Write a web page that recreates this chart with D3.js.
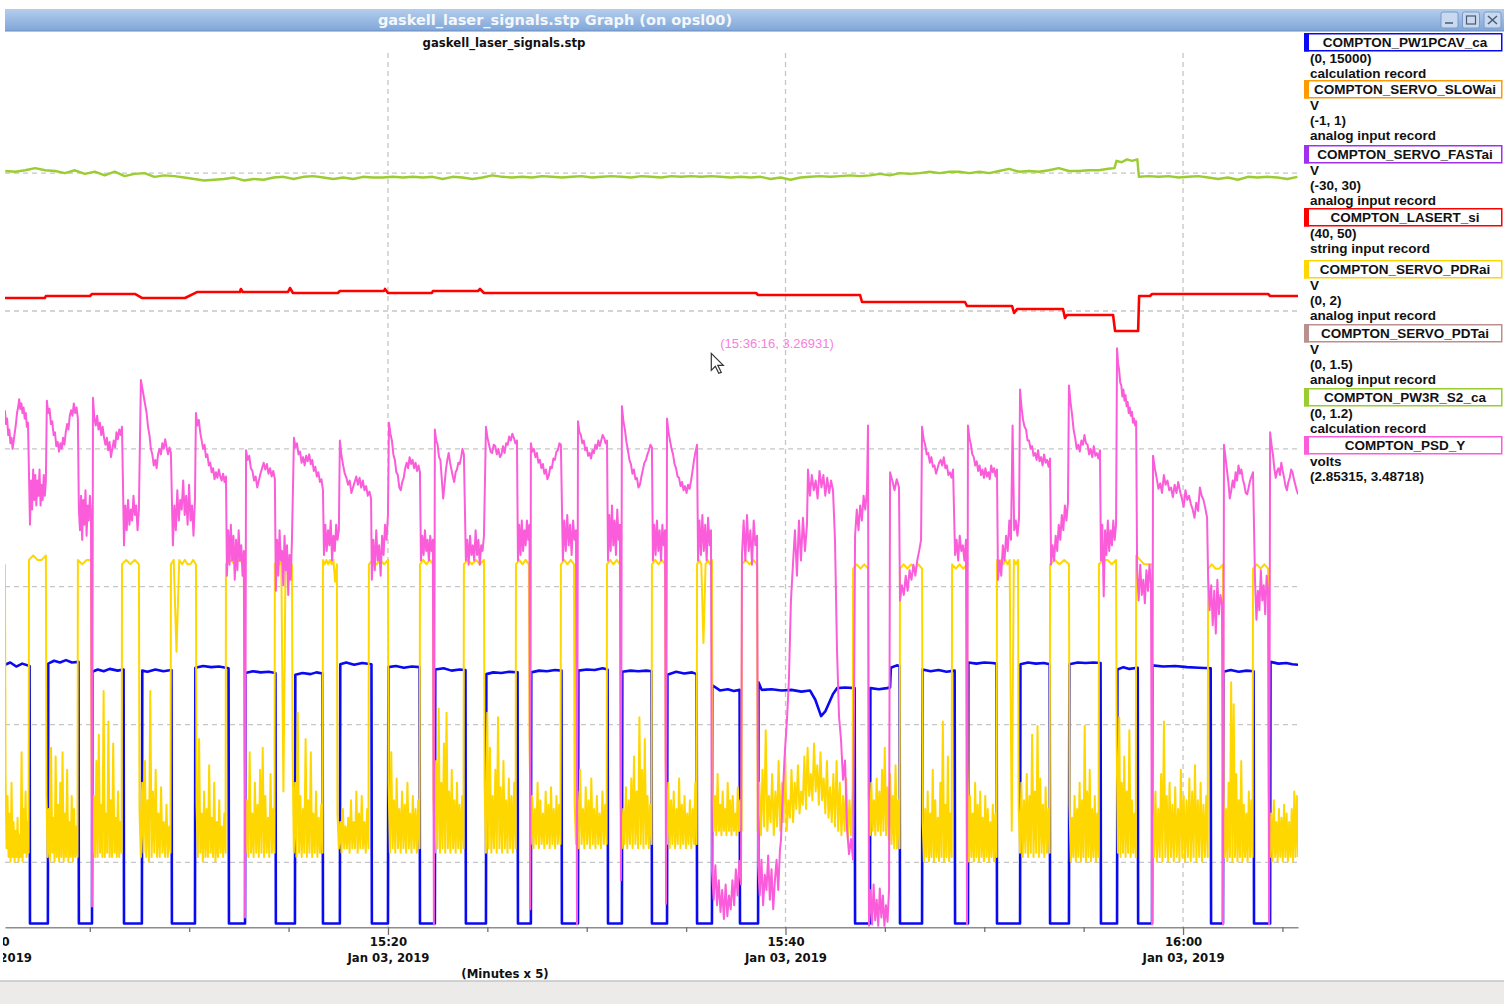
<!DOCTYPE html>
<html><head><meta charset="utf-8">
<script src="https://cdn.jsdelivr.net/npm/d3@7"></script>
<style>
html,body{margin:0;padding:0;background:#fff;}
svg{display:block;}
</style></head><body>
<svg id="c" width="1504" height="1004"></svg>
<script>
// ---------------- DATA ----------------
const fileTitle = "gaskell_laser_signals.stp";
const windowTitle = "gaskell_laser_signals.stp Graph (on opsl00)";
const axisUnitLabel = "(Minutes x 5)";
const timeDomain = ["15:00:44", "16:05:47"];
const gridTimes = ["15:20", "15:40", "16:00"];
const yGridTicks = [2.9, 3.0, 3.1, 3.2, 3.3, 3.4];
const cursorTime = "15:36:16";
const cursorValue = 3.26931;

const seriesNames = ["COMPTON_PW1PCAV_ca","COMPTON_SERVO_SLOWai","COMPTON_SERVO_FASTai","COMPTON_LASERT_si","COMPTON_SERVO_PDRai","COMPTON_SERVO_PDTai","COMPTON_PW3R_S2_ca","COMPTON_PSD_Y"];
const seriesUnits = ["", "V", "V", "", "V", "V", "", "volts"];
const seriesDomains = [[0,15000],[-1,1],[-30,30],[40,50],[0,2],[0,1.5],[0,1.2],[2.85315,3.48718]];
const seriesRecords = ["calculation record","analog input record","analog input record","string input record","analog input record","analog input record","calculation record",""];

// time in minutes after 15:00 (Jan 03, 2019)
// COMPTON_PW1PCAV_ca : [minute, value]
const pw1pcav = [
[0.73,4500],[1.0,4540],[1.3,4470],[1.6,4520],[1.97,4480],[1.99,60],
[2.89,60],[2.91,4520],[3.2,4570],[3.5,4540],[3.8,4580],[4.1,4540],[4.43,4550],[4.45,60],
[5.11,60],[5.13,4380],[5.4,4420],[5.7,4390],[6.0,4430],[6.4,4400],[6.70,4420],[6.72,60],
[7.62,60],[7.64,4400],[7.9,4380],[8.3,4420],[8.7,4390],[9.11,4410],[9.13,60],
[10.29,60],[10.31,4450],[10.7,4480],[11.1,4460],[11.5,4470],[11.98,4440],[12.00,60],
[12.81,60],[12.83,4360],[13.2,4390],[13.6,4370],[14.0,4380],[14.34,4360],[14.36,60],
[15.32,60],[15.34,4330],[15.7,4360],[16.1,4340],[16.4,4370],[16.71,4350],[16.73,60],
[17.58,60],[17.60,4510],[17.9,4540],[18.3,4500],[18.7,4530],[19.17,4510],[19.19,60],
[20.00,60],[20.02,4460],[20.4,4480],[20.8,4450],[21.2,4470],[21.59,4460],[21.61,60],
[22.36,60],[22.38,4420],[22.8,4440],[23.2,4400],[23.6,4420],[23.90,4410],[23.92,60],
[24.93,60],[24.95,4340],[25.3,4370],[25.7,4360],[26.1,4380],[26.52,4370],[26.54,60],
[27.19,60],[27.21,4370],[27.6,4400],[28.0,4390],[28.4,4410],[28.73,4400],[28.75,60],
[29.56,60],[29.58,4400],[30.0,4420],[30.4,4410],[30.8,4440],[31.05,4420],[31.07,60],
[31.77,60],[31.79,4380],[32.2,4400],[32.6,4390],[33.0,4400],[33.26,4390],[33.28,60],
[34.04,60],[34.06,4330],[34.5,4380],[34.9,4350],[35.3,4370],[35.53,4340],[35.55,60],
[36.30,60],[36.32,4150],[36.7,4060],[37.1,4080],[37.4,4050],[37.69,4070],[37.71,60],
[38.62,60],[38.64,4200],[38.8,4070],[39.3,4080],[39.8,4060],[40.3,4070],[40.8,4040],[41.23,4060],[41.5,3900],[41.79,3620],[42.0,3700],[42.39,4000],[42.6,4100],[43.0,4110],[43.48,4100],[43.50,60],
[44.25,60],[44.27,4100],[44.7,4080],[45.1,4100],[45.26,4110],[45.30,4450],[45.6,4490],[45.74,4480],[45.76,60],
[46.87,60],[46.89,4420],[47.3,4390],[47.7,4410],[48.1,4380],[48.51,4400],[48.53,60],
[49.18,60],[49.20,4540],[49.6,4520],[50.0,4540],[50.4,4530],[50.62,4520],[50.64,60],
[51.80,60],[51.82,4510],[52.2,4540],[52.6,4520],[53.0,4530],[53.29,4510],[53.31,60],
[54.26,60],[54.28,4510],[54.7,4540],[55.1,4530],[55.5,4540],[55.85,4530],[55.87,60],
[56.68,60],[56.70,4420],[57.0,4460],[57.3,4430],[57.72,4450],[57.74,60],
[58.44,60],[58.46,4490],[59.0,4470],[59.6,4480],[60.2,4460],[60.8,4450],[61.39,4440],[61.41,60],
[62.01,60],[62.03,4380],[62.4,4410],[62.8,4380],[63.2,4400],[63.55,4390],[63.57,60],
[64.38,60],[64.40,4550],[64.8,4520],[65.2,4530],[65.5,4510],[65.79,4500]
];

// COMPTON_LASERT_si : [minute, value]
const lasert = [
[0.73,47.197],[2.74,47.197],[2.79,47.220],[5.01,47.220],[5.11,47.243],[7.27,47.243],[7.62,47.197],[9.79,47.197],
[10.39,47.265],[12.55,47.265],[12.60,47.300],[12.70,47.265],[14.97,47.265],[15.07,47.311],[15.22,47.254],[17.48,47.254],
[17.58,47.277],[19.80,47.277],[19.85,47.300],[20.00,47.254],[22.21,47.254],[22.26,47.277],[24.53,47.277],[24.63,47.300],
[24.83,47.254],[38.52,47.254],[38.62,47.231],[43.75,47.231],[43.85,47.151],[49.03,47.151],[49.13,47.105],[51.40,47.105],
[51.50,47.025],[51.65,47.071],[53.96,47.071],[54.06,46.968],[54.16,47.002],[56.48,47.002],[56.58,46.819],[57.74,46.819],
[57.79,47.220],[58.34,47.220],[58.44,47.243],[64.28,47.243],[64.38,47.220],[65.79,47.220]
];

// COMPTON_SERVO_PDRai : runs of samples [startMinute, endMinute, values]
const pdr = [
[0.73,0.73,[.83]],
[0.76,1.92,[.35,.18,.30,.16,.26,.15,.33,.16,.24,.15,.22,.16,.25,.15,.21,.16,.40,.15,.27,.17,.31,.16,.24,.17]],
[1.94,2.79,[.84,.85,.84,.84,.85]],
[2.82,4.38,[.30,.16,.27,.15,.41,.17,.25,.15,.39,.16,.28,.15,.33,.16,.40,.15,.26,.16,.36,.15,.24,.16,.30,.15,.27,.16,.23,.16]],
[4.40,5.06,[.84,.83,.84,.84]],
[5.09,6.60,[.34,.17,.30,.16,.38,.16,.44,.17,.28,.16,.54,.16,.26,.17,.47,.16,.29,.16,.42,.17,.25,.16,.31,.16,.24,.17]],
[6.62,7.47,[.83,.84,.83,.84,.83]],
[7.50,9.06,[.27,.16,.33,.17,.38,.16,.29,.15,.54,.16,.31,.17,.36,.16,.26,.16,.32,.17,.24,.16,.28,.16,.23,.17]],
[9.08,10.34,[.83,.84,.63,.84,.83,.84,.83,.83,.84,.83]],
[10.37,11.83,[.28,.16,.43,.17,.26,.15,.31,.16,.27,.16,.37,.17,.25,.16,.33,.15,.24,.16,.29,.17,.23,.16,.26,.17]],
[11.85,12.75,[.83,.84,.83,.84,.83]],
[12.78,14.29,[.38,.17,.29,.16,.40,.17,.26,.16,.33,.17,.28,.16,.36,.17,.41,.16,.30,.17,.25,.16,.35,.17,.27,.17]],
[14.31,15.17,[.83,.84,.83,.84,.31,.83,.84,.83,.83]],
[15.20,16.71,[.41,.17,.33,.16,.49,.17,.30,.16,.27,.17,.43,.16,.29,.17,.40,.16,.26,.17,.31,.16,.25,.17,.28,.17]],
[16.73,17.43,[.84,.83,.84,.83,.84,.83,.84,.79,.83]],
[17.46,19.02,[.26,.18,.24,.17,.27,.18,.23,.18,.25,.17,.29,.18,.24,.18,.31,.17,.26,.18,.30,.18,.24,.17,.27,.18]],
[19.04,20.00,[.83,.84,.83,.84,.83,.84]],
[20.03,21.59,[.33,.17,.40,.18,.29,.17,.34,.18,.27,.17,.31,.18,.28,.17,.33,.18,.26,.17,.30,.18,.27,.17,.29,.18]],
[21.61,22.26,[.83,.84,.83,.84,.83]],
[22.29,23.80,[.30,.17,.38,.18,.50,.17,.33,.18,.42,.17,.49,.18,.31,.17,.36,.18,.29,.17,.33,.18,.28,.17,.30,.18]],
[23.82,24.83,[.83,.84,.83,.84,.83,.84]],
[24.86,26.42,[.33,.17,.49,.18,.41,.17,.30,.18,.36,.17,.48,.18,.32,.17,.38,.18,.29,.17,.34,.18,.30,.17,.33,.18]],
[26.44,27.09,[.83,.84,.83,.84,.83]],
[27.12,28.68,[.44,.19,.30,.18,.27,.19,.33,.18,.29,.19,.26,.18,.31,.19,.28,.18,.32,.19,.27,.18,.30,.19,.28,.19]],
[28.70,29.36,[.83,.84,.83,.84,.83]],
[29.39,31.00,[.28,.19,.31,.18,.36,.19,.27,.18,.32,.19,.29,.18,.34,.19,.27,.18,.30,.19,.26,.18,.31,.19,.28,.19]],
[31.02,31.67,[.83,.84,.83,.84,.83]],
[31.70,33.26,[.30,.18,.27,.19,.32,.18,.29,.19,.34,.18,.39,.19,.31,.18,.48,.19,.36,.18,.43,.19,.30,.18,.28,.19]],
[33.28,33.94,[.83,.84,.83,.84,.83]],
[33.97,35.53,[.39,.19,.33,.18,.29,.19,.31,.18,.27,.19,.34,.18,.28,.19,.30,.18,.26,.19,.29,.18,.27,.19,.33,.19]],
[35.55,36.30,[.83,.84,.83,.65,.83,.84,.83,.84]],
[36.33,37.79,[.32,.22,.30,.21,.35,.22,.28,.21,.31,.22,.27,.21,.33,.22,.29,.21,.30,.22,.26,.21,.32,.22,.29,.22]],
[37.81,38.57,[.83,.84,.83,.84,.83]],
[38.60,43.38,[.22,.33,.21,.36,.23,.45,.22,.30,.24,.35,.21,.31,.23,.38,.22,.33,.24,.40,.22,.29,.25,.36,.24,.33,.27,.37,.26,.31,.28,.39,.27,.41,.30,.35,.29,.42,.31,.37,.28,.40,.29,.34,.26,.38,.25,.32,.24,.35,.23,.38,.22,.33,.21,.30,.22,.34,.20,.29,.21,.32]],
[43.40,44.15,[.82,.83,.82,.83,.82]],
[44.18,45.74,[.30,.21,.33,.22,.29,.21,.34,.22,.31,.21,.36,.22,.41,.21,.32,.20,.35,.19,.30,.18,.37,.18,.29,.18]],
[45.76,46.87,[.82,.83,.82,.83,.82,.83,.82]],
[46.90,48.36,[.24,.15,.27,.16,.31,.15,.26,.16,.36,.15,.29,.16,.25,.15,.33,.16,.47,.15,.28,.16,.39,.15,.26,.16]],
[48.38,49.13,[.83,.82,.83,.82,.83]],
[49.16,50.62,[.37,.15,.30,.16,.26,.15,.33,.16,.28,.15,.31,.16,.25,.15,.30,.16,.27,.15,.24,.16,.28,.15,.26,.16]],
[50.64,51.70,[.84,.83,.84,.83,.84,.83,.84,.22,.84,.83,.84]],
[51.73,53.29,[.27,.17,.33,.16,.29,.17,.35,.16,.30,.17,.44,.16,.31,.17,.46,.16,.34,.17,.28,.16,.32,.17,.27,.17]],
[53.31,54.26,[.83,.84,.83,.84,.83]],
[54.29,55.75,[.28,.15,.25,.16,.30,.15,.27,.16,.33,.15,.29,.16,.46,.15,.31,.16,.36,.15,.27,.16,.30,.15,.26,.16]],
[55.77,56.63,[.83,.84,.84,.83,.84]],
[56.66,57.62,[.42,.17,.48,.16,.33,.17,.39,.16,.31,.17,.45,.16,.29,.17,.26,.16]],
[57.64,58.44,[.85,.84,.83,.83,.83]],
[58.47,61.24,[.28,.16,.31,.15,.27,.16,.35,.15,.47,.16,.30,.15,.33,.16,.28,.15,.32,.16,.27,.15,.36,.16,.30,.15,.29,.16,.34,.15,.31,.16,.37,.15,.29,.16,.33,.15,.28,.16,.30,.16]],
[61.26,62.01,[.82,.83,.82,.82,.83]],
[62.04,63.50,[.30,.16,.27,.15,.33,.16,.56,.15,.51,.16,.35,.15,.29,.16,.38,.15,.28,.16,.26,.15,.31,.16,.29,.16]],
[63.52,64.28,[.82,.83,.82,.83,.82]],
[64.31,65.79,[.32,.16,.26,.15,.29,.16,.24,.15,.27,.16,.25,.15,.28,.16,.26,.15,.24,.16,.27,.15,.31,.16,.30,.16]]
];

// COMPTON_PW3R_S2_ca : runs of samples [startMinute, endMinute, values]
const pw3r = [
[0.75,55.75,[1.038,1.037,1.039,1.042,1.039,1.038,1.035,1.039,1.034,1.037,
1.032,1.037,1.031,1.034,1.035,1.030,1.032,1.031,1.029,1.027,
1.025,1.026,1.027,1.029,1.025,1.027,1.026,1.029,1.030,1.027,
1.030,1.031,1.029,1.027,1.029,1.027,1.030,1.029,1.029,1.030,
1.029,1.030,1.029,1.030,1.027,1.030,1.029,1.027,1.029,1.032,
1.030,1.029,1.030,1.029,1.031,1.030,1.029,1.030,1.031,1.029,
1.030,1.031,1.030,1.029,1.031,1.030,1.029,1.031,1.030,1.031,
1.030,1.031,1.030,1.029,1.030,1.029,1.030,1.027,1.029,1.026,
1.029,1.030,1.031,1.030,1.031,1.032,1.031,1.032,1.034,1.032,
1.035,1.034,1.035,1.037,1.035,1.037,1.037,1.035,1.037,1.035,
1.038,1.041,1.037,1.038,1.037,1.039,1.042,1.038,1.038,1.039,
1.039]],
[56.25,56.55,[1.041,1.042]],
[56.65,57.70,[1.052,1.050,1.054,1.052,1.054]],
[57.78,65.75,[1.030,1.031,1.030,1.031,1.029,1.030,1.031,1.029,1.027,1.029,1.026,1.030,1.029,1.030,1.029,1.027,1.030]]
];

// COMPTON_PSD_Y : runs of samples [startMinute, endMinute, values]
const psdY = [
[0.73,1.89,[3.228,3.218,3.222,3.210,3.214,3.204,3.208,3.200,3.206,3.212,3.218,3.226,3.230,3.236,3.229,3.233,3.226,3.230,3.222,3.226,3.216,3.219]],
[1.99,2.79,[3.145,3.177,3.156,3.185,3.163,3.181,3.159,3.177,3.166,3.185,3.159,3.174,3.163,3.181,3.166,3.177]],
[2.84,4.40,[3.235,3.226,3.229,3.218,3.220,3.210,3.212,3.202,3.205,3.198,3.204,3.200,3.208,3.203,3.212,3.218,3.214,3.224,3.228,3.224,3.233,3.226,3.230,3.222]],
[4.45,5.06,[3.156,3.141,3.166,3.134,3.163,3.145,3.170,3.137,3.159,3.148,3.166,3.152]],
[5.11,5.11,[2.868]],
[5.16,6.62,[3.237,3.222,3.217,3.224,3.214,3.219,3.210,3.216,3.208,3.203,3.208,3.199,3.205,3.194,3.200,3.206,3.201,3.212,3.207,3.214,3.210,3.216]],
[6.72,7.47,[3.130,3.159,3.141,3.163,3.145,3.156,3.148,3.166,3.152,3.159,3.141,3.156]],
[7.57,9.08,[3.250,3.244,3.238,3.232,3.226,3.216,3.210,3.200,3.196,3.188,3.192,3.186,3.196,3.200,3.196,3.204,3.200,3.207,3.201,3.196,3.201,3.197]],
[9.18,10.29,[3.130,3.159,3.141,3.170,3.148,3.163,3.156,3.177,3.152,3.166,3.145,3.174,3.148,3.159,3.137,3.163]],
[10.34,11.85,[3.226,3.217,3.221,3.212,3.206,3.200,3.203,3.194,3.196,3.188,3.190,3.183,3.186,3.178,3.183,3.179,3.185,3.180,3.177,3.182,3.176,3.180]],
[11.90,12.75,[3.108,3.141,3.116,3.145,3.119,3.137,3.105,3.134,3.112,3.141,3.119,3.130,3.108,3.126]],
[12.81,12.81,[2.860]],
[12.86,14.31,[3.199,3.192,3.195,3.186,3.184,3.177,3.180,3.172,3.177,3.182,3.186,3.190,3.185,3.189,3.182,3.186,3.180,3.184,3.178]],
[14.36,15.17,[3.097,3.134,3.108,3.141,3.119,3.126,3.101,3.137,3.112,3.130,3.094,3.123,3.105,3.134]],
[15.27,16.73,[3.208,3.201,3.204,3.196,3.198,3.190,3.194,3.188,3.195,3.191,3.196,3.189,3.192,3.184,3.187,3.180,3.183,3.176,3.178,3.170]],
[16.78,17.53,[3.123,3.145,3.126,3.141,3.130,3.148,3.119,3.137,3.126,3.145,3.134,3.141]],
[17.58,19.15,[3.206,3.195,3.188,3.182,3.179,3.174,3.177,3.168,3.172,3.176,3.180,3.174,3.179,3.172,3.177,3.170,3.173,3.166,3.169,3.164]],
[19.19,20.00,[3.105,3.134,3.112,3.141,3.119,3.130,3.108,3.137,3.123,3.145,3.134,3.152]],
[20.05,21.61,[3.219,3.211,3.206,3.196,3.192,3.183,3.181,3.172,3.170,3.176,3.179,3.186,3.190,3.186,3.194,3.189,3.192,3.186,3.190,3.184,3.188,3.183]],
[21.66,22.26,[3.119,3.137,3.123,3.141,3.126,3.134,3.119,3.137,3.126,3.134]],
[22.31,22.31,[2.855]],
[22.36,23.82,[3.214,3.206,3.203,3.194,3.192,3.178,3.164,3.174,3.185,3.192,3.197,3.190,3.185,3.180,3.176,3.183,3.185,3.190,3.189,3.194,3.200,3.196]],
[23.92,24.83,[3.119,3.134,3.116,3.137,3.123,3.130,3.119,3.141,3.123,3.134,3.116,3.130,3.126,3.137]],
[24.93,26.49,[3.216,3.208,3.203,3.198,3.197,3.203,3.202,3.196,3.200,3.194,3.196,3.202,3.197,3.204,3.203,3.209,3.206,3.211,3.208,3.204,3.206]],
[26.54,27.12,[3.119,3.145,3.123,3.148,3.126,3.141,3.130,3.148,3.134,3.145]],
[27.16,27.16,[2.866]],
[27.19,28.70,[3.204,3.198,3.200,3.194,3.197,3.190,3.192,3.186,3.189,3.182,3.185,3.178,3.181,3.187,3.186,3.193,3.192,3.198,3.199,3.204,3.203]],
[28.80,29.46,[3.119,3.148,3.126,3.152,3.130,3.145,3.123,3.148,3.134,3.141]],
[29.51,29.51,[2.855]],
[29.56,31.02,[3.220,3.212,3.210,3.204,3.206,3.199,3.201,3.195,3.197,3.193,3.199,3.197,3.203,3.200,3.206,3.202,3.206,3.210,3.208,3.204,3.206]],
[31.07,31.67,[3.119,3.152,3.126,3.159,3.130,3.148,3.123,3.156,3.134,3.145]],
[31.72,31.72,[2.887]],
[31.77,33.28,[3.231,3.220,3.214,3.205,3.199,3.192,3.189,3.182,3.185,3.178,3.179,3.172,3.174,3.180,3.185,3.190,3.192,3.196,3.199,3.203,3.201]],
[33.33,33.94,[3.119,3.145,3.123,3.148,3.126,3.141,3.119,3.145,3.130,3.141]],
[33.99,33.99,[2.870]],
[34.04,35.55,[3.222,3.212,3.206,3.200,3.196,3.189,3.186,3.180,3.179,3.173,3.176,3.170,3.173,3.168,3.174,3.171,3.177,3.184,3.192,3.198,3.203]],
[35.60,36.25,[3.119,3.148,3.123,3.152,3.126,3.145,3.119,3.150,3.130,3.141]],
[36.30,37.76,[2.895,2.873,2.898,2.869,2.887,2.864,2.880,2.859,2.884,2.861,2.876,2.866,2.887,2.869,2.895,2.876,2.901,2.884]],
[37.81,38.57,[3.123,3.148,3.119,3.152,3.126,3.141,3.116,3.148,3.130,3.137]],
[38.62,39.72,[2.898,2.876,2.902,2.869,2.891,2.880,2.905,2.873,2.895,2.866,2.887,2.902,2.880,2.909]],
[39.77,41.08,[2.916,2.952,2.981,3.003,3.033,3.090,3.116,3.141,3.108,3.148,3.119,3.150,3.126,3.145]],
[41.13,42.39,[3.185,3.166,3.181,3.170,3.177,3.164,3.184,3.172,3.181,3.166,3.179,3.168,3.177,3.170]],
[42.49,43.40,[3.134,3.054,3.006,2.989,2.960,2.974,2.924,2.906,2.917,2.902]],
[43.50,44.10,[3.137,3.156,3.141,3.159,3.148,3.166,3.156,3.170]],
[44.15,44.15,[3.217]],
[44.20,45.21,[2.854,2.880,2.855,2.884,2.858,2.873,2.854,2.881,2.860,2.876,2.854,2.869,2.857,2.880]],
[45.26,45.71,[3.183,3.177,3.170,3.178,3.172]],
[45.76,46.82,[3.090,3.101,3.094,3.108,3.097,3.112,3.105,3.116,3.108,3.119,3.126,3.134]],
[46.87,48.43,[3.216,3.207,3.203,3.196,3.197,3.190,3.194,3.187,3.188,3.182,3.186,3.190,3.192,3.188,3.194,3.186,3.188,3.181,3.183,3.179,3.185]],
[48.53,49.08,[3.123,3.134,3.119,3.137,3.126,3.130,3.119,3.134]],
[49.13,49.13,[2.855]],
[49.18,50.64,[3.217,3.208,3.203,3.196,3.194,3.188,3.191,3.184,3.188,3.181,3.185,3.179,3.186,3.180,3.183,3.178,3.188,3.183,3.186,3.180,3.185]],
[50.69,51.75,[3.105,3.119,3.108,3.130,3.119,3.137,3.126,3.148,3.134,3.217,3.141,3.148,3.137,3.150]],
[51.80,53.31,[3.243,3.230,3.221,3.216,3.214,3.206,3.206,3.200,3.202,3.195,3.197,3.192,3.199,3.191,3.194,3.188,3.196,3.190,3.192,3.187,3.193]],
[53.36,54.21,[3.116,3.130,3.119,3.137,3.126,3.145,3.134,3.152,3.141,3.159,3.148,3.161]],
[54.26,55.82,[3.246,3.234,3.225,3.214,3.208,3.200,3.203,3.198,3.206,3.203,3.210,3.204,3.203,3.196,3.200,3.194,3.202,3.195,3.197,3.193,3.199]],
[55.87,56.63,[3.119,3.145,3.093,3.141,3.123,3.148,3.126,3.141,3.130,3.148,3.134,3.145]],
[56.68,57.64,[3.273,3.262,3.257,3.248,3.246,3.238,3.243,3.235,3.239,3.231,3.234,3.226,3.230,3.224,3.227,3.219,3.222,3.217,3.220]],
[57.69,58.39,[3.112,3.090,3.116,3.094,3.105,3.088,3.112,3.097,3.116,3.101]],
[58.44,58.44,[2.855]],
[58.49,61.21,[3.195,3.186,3.179,3.171,3.175,3.168,3.181,3.174,3.177,3.170,3.172,3.165,3.174,3.168,3.176,3.169,3.164,3.158,3.170,3.163,3.166,3.160,3.156,3.150,3.161,3.155,3.172,3.166,3.163,3.157,3.150]],
[61.26,61.96,[3.108,3.083,3.101,3.072,3.097,3.066,3.105,3.080,3.094,3.087]],
[62.01,62.01,[2.855]],
[62.06,63.52,[3.203,3.194,3.185,3.176,3.164,3.170,3.177,3.172,3.183,3.177,3.188,3.182,3.185,3.178,3.174,3.168,3.167,3.172,3.177,3.180,3.183]],
[63.62,64.28,[3.105,3.076,3.097,3.083,3.112,3.090,3.101,3.080,3.108,3.094]],
[64.33,64.33,[2.855]],
[64.38,65.79,[3.212,3.203,3.196,3.186,3.179,3.184,3.186,3.181,3.190,3.184,3.179,3.173,3.170,3.176,3.179,3.185,3.183,3.178,3.174,3.170,3.167]]
];

// ---------------- STYLE / LAYOUT ----------------
const seriesColors = ["#0a0af2","#ff9a00","#a030f0","#ff0000","#ffd700","#bc8f8f","#9acd32","#fb5cd9"];
const lineWidths = {0:2.6, 3:2.6, 4:2, 6:2.4, 7:2};
const plot = {left:5, right:1298, top:53, bottom:927};
const legendTops = [33, 80, 145, 208, 260, 324, 388, 436];
const condensed = "'DejaVu Sans Condensed','DejaVu Sans',sans-serif";
const sans = "'Liberation Sans',Arial,sans-serif";

// ---------------- HELPERS ----------------
const base = new Date(2019, 0, 3, 15, 0, 0);
const toDate = m => new Date(base.getTime() + m * 60000);
const clockToMin = s => { const p = s.split(":").map(Number); return (p[0]-15)*60 + p[1] + (p[2]||0)/60; };
const flatten = runs => {
  const out = [];
  runs.forEach(([t0, t1, vals]) => {
    const n = vals.length;
    vals.forEach((v, i) => out.push([n > 1 ? t0 + (t1 - t0) * i / (n - 1) : t0, v]));
  });
  return out;
};

const svg = d3.select("#c");
const defs = svg.append("defs");

const x = d3.scaleTime()
  .domain(timeDomain.map(s => toDate(clockToMin(s))))
  .range([plot.left, plot.right]);
const yScales = seriesDomains.map(d => d3.scaleLinear().domain(d).range([plot.bottom, plot.top]));

// ---------------- WINDOW CHROME ----------------
const tb = defs.append("linearGradient").attr("id","tb").attr("x1",0).attr("y1",0).attr("x2",0).attr("y2",1);
tb.append("stop").attr("offset","0%").attr("stop-color","#b4cdec");
tb.append("stop").attr("offset","100%").attr("stop-color","#7fa6d9");
svg.append("rect").attr("x",5).attr("y",9).attr("width",1499).attr("height",22).attr("fill","url(#tb)");
svg.append("line").attr("x1",5).attr("x2",1504).attr("y1",31).attr("y2",31).attr("stroke","#6b8dbd").attr("stroke-width",1);
svg.append("text").attr("x",555).attr("y",25).attr("text-anchor","middle")
  .attr("font-family","'DejaVu Sans',sans-serif").attr("font-weight","bold").attr("font-size",14.5)
  .attr("fill","#f4f7fb").text(windowTitle);
["min","max","close"].forEach((k, i) => {
  const bx = 1441 + i * 21.5;
  const g = svg.append("g");
  g.append("rect").attr("x",bx).attr("y",12).attr("width",17).attr("height",16).attr("rx",2)
    .attr("fill","#c9d9ef").attr("stroke","#7d9bc6");
  if (k === "min") g.append("line").attr("x1",bx+4).attr("x2",bx+12).attr("y1",23).attr("y2",23).attr("stroke","#4a5a70").attr("stroke-width",1.5);
  if (k === "max") g.append("rect").attr("x",bx+4).attr("y",16).attr("width",9).attr("height",8).attr("fill","none").attr("stroke","#4a5a70").attr("stroke-width",1.2);
  if (k === "close") g.append("path").attr("d",`M${bx+4},16L${bx+13},24M${bx+13},16L${bx+4},24`).attr("stroke","#4a5a70").attr("stroke-width",1.5);
});
svg.append("rect").attr("x",0).attr("y",981).attr("width",1504).attr("height",23).attr("fill","#ecebea");
svg.append("line").attr("x1",0).attr("x2",1504).attr("y1",981).attr("y2",981).attr("stroke","#c4c4c4").attr("stroke-width",1.5);

svg.append("text").attr("x",504).attr("y",47).attr("text-anchor","middle")
  .attr("font-family",condensed).attr("font-weight","bold").attr("font-size",13)
  .attr("fill","#111").text(fileTitle);

// ---------------- GRID ----------------
const grid = svg.append("g");
grid.selectAll("line.h").data(yGridTicks).join("line")
  .attr("x1",plot.left).attr("x2",plot.right)
  .attr("y1",d => yScales[7](d)).attr("y2",d => yScales[7](d))
  .attr("stroke","#c6c6c6").attr("stroke-width",1.3).attr("stroke-dasharray","5,4");
grid.selectAll("line.v").data(gridTimes).join("line")
  .attr("x1",d => x(toDate(clockToMin(d)))).attr("x2",d => x(toDate(clockToMin(d))))
  .attr("y1",plot.top).attr("y2",plot.bottom)
  .attr("stroke","#c6c6c6").attr("stroke-width",1.3).attr("stroke-dasharray","5,4");

// ---------------- SERIES ----------------
defs.append("clipPath").attr("id","pc").append("rect")
  .attr("x",plot.left).attr("y",plot.top-2).attr("width",plot.right-plot.left).attr("height",plot.bottom-plot.top+2);
const dataBySeries = {0: pw1pcav, 3: lasert, 4: flatten(pdr), 6: flatten(pw3r), 7: flatten(psdY)};
const lines = svg.append("g").attr("clip-path","url(#pc)");
[0, 3, 4, 6, 7].forEach(i => {
  const y = yScales[i];
  const gen = d3.line().x(d => x(toDate(d[0]))).y(d => y(d[1]));
  lines.append("path").datum(dataBySeries[i]).attr("d", gen)
    .attr("fill","none").attr("stroke",seriesColors[i]).attr("stroke-width",lineWidths[i])
    .attr("stroke-linejoin","round");
});

// ---------------- X AXIS ----------------
defs.append("clipPath").attr("id","ac").append("rect").attr("x",3).attr("y",0).attr("width",1400).attr("height",100);
const tickTimes = d3.timeMinute.every(5).range(toDate(0), toDate(66));
const axisG = svg.append("g").attr("transform",`translate(0,${plot.bottom})`).attr("clip-path","url(#ac)");
axisG.call(d3.axisBottom(x).tickValues(tickTimes).tickSizeOuter(0).tickFormat(""));
axisG.select(".domain").attr("stroke","#8d8d8d").attr("stroke-width",2);
const isMajor = d => d.getMinutes() % 20 === 0;
axisG.selectAll(".tick line").attr("stroke","#707070").attr("stroke-width",1.3).attr("y2", d => isMajor(d) ? 8 : 5);
const fmtT = d3.timeFormat("%H:%M"), fmtD = d3.timeFormat("%b %d, %Y");
axisG.selectAll(".tick").filter(isMajor).each(function(d) {
  const t = d3.select(this).select("text").attr("y",0).attr("dy",0)
    .attr("font-family",condensed).attr("font-weight","bold").attr("font-size",13).attr("fill","#111");
  t.append("tspan").attr("x",0).attr("y",19).text(fmtT(d));
  t.append("tspan").attr("x",0).attr("y",35).text(fmtD(d));
});
svg.append("text").attr("x",505).attr("y",978).attr("text-anchor","middle")
  .attr("font-family",condensed).attr("font-weight","bold").attr("font-size",13).attr("fill","#111")
  .text(axisUnitLabel);

// ---------------- CURSOR READOUT ----------------
const cx = x(toDate(clockToMin(cursorTime))), cy = yScales[7](cursorValue);
svg.append("text").attr("x",cx+9).attr("y",cy-5).attr("font-family",sans).attr("font-size",13)
  .attr("fill","#f77fdc").text(`(${cursorTime}, ${cursorValue})`);
svg.append("path").attr("transform",`translate(${cx},${cy})`)
  .attr("d","M0,0L0,17L4,13L7.5,20L10,19L6.5,12L12,12Z").attr("fill","#fff").attr("stroke","#333").attr("stroke-width",1.2);

// ---------------- LEGEND ----------------
const lg = svg.append("g");
seriesNames.forEach((name, i) => {
  const top = legendTops[i];
  const col = seriesColors[i];
  lg.append("rect").attr("x",1304.75).attr("y",top+0.75).attr("width",197).attr("height",17)
    .attr("fill","#fff").attr("stroke",col).attr("stroke-width",1.5);
  lg.append("rect").attr("x",1304).attr("y",top).attr("width",5).attr("height",18.5).attr("fill",col);
  lg.append("text").attr("x",1405).attr("y",top+14).attr("text-anchor","middle")
    .attr("font-family",sans).attr("font-weight","bold").attr("font-size",13.5).attr("fill","#111").text(name);
  const d = seriesDomains[i];
  const info = [seriesUnits[i], `(${d[0]}, ${d[1]})`, seriesRecords[i]].filter(s => s !== "");
  info.forEach((s, j) => {
    lg.append("text").attr("x",1310).attr("y",top + 30 + j * 15)
      .attr("font-family",sans).attr("font-weight","bold").attr("font-size",13.5).attr("fill","#111").text(s);
  });
});
</script>
</body></html>
